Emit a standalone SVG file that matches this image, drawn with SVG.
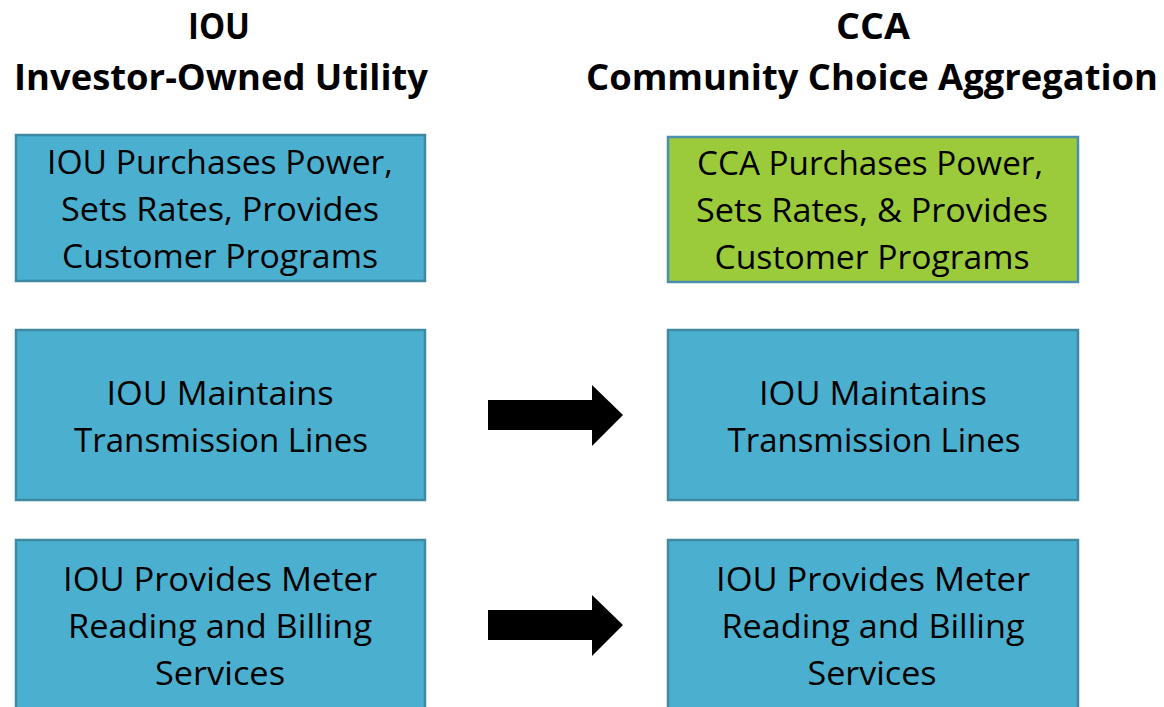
<svg xmlns="http://www.w3.org/2000/svg" width="1164" height="707" viewBox="0 0 1164 707">
<style>
.box{fill:#4BAFCF;stroke:#3F8AA2;stroke-width:2.5}
.green{fill:#9BCB3B;stroke:#4A8FAE;stroke-width:2.5}
.t{font-family:"Open Sans","Noto Sans",sans-serif;font-size:33px;fill:#000;text-anchor:middle}
.h{font-family:"Open Sans","Noto Sans",sans-serif;font-size:36px;font-weight:bold;fill:#000;text-anchor:middle}
.arrow{fill:#000}
</style>
<rect width="1164" height="707" fill="#fff"/>
<g id="heading-iou">
<text class="h" x="219" y="39" textLength="62" lengthAdjust="spacingAndGlyphs">IOU</text>
<text class="h" x="221" y="90" textLength="414" lengthAdjust="spacingAndGlyphs">Investor-Owned Utility</text>
</g>
<g id="heading-cca">
<text class="h" x="873" y="39" textLength="74" lengthAdjust="spacingAndGlyphs">CCA</text>
<text class="h" x="872" y="90" textLength="572" lengthAdjust="spacingAndGlyphs">Community Choice Aggregation</text>
</g>
<g id="iou-purchases">
<rect class="box" x="16" y="135" width="409" height="146"/>
<text class="t" x="220" y="174" textLength="346" lengthAdjust="spacingAndGlyphs">IOU Purchases Power,</text>
<text class="t" x="220" y="221" textLength="318" lengthAdjust="spacingAndGlyphs">Sets Rates, Provides</text>
<text class="t" x="220" y="268" textLength="316" lengthAdjust="spacingAndGlyphs">Customer Programs</text>
</g>
<g id="cca-purchases">
<rect class="green" x="668" y="137" width="410" height="145"/>
<text class="t" x="870" y="175" textLength="346" lengthAdjust="spacingAndGlyphs">CCA Purchases Power,</text>
<text class="t" x="872" y="222" textLength="352" lengthAdjust="spacingAndGlyphs">Sets Rates, &amp; Provides</text>
<text class="t" x="872" y="269" textLength="315" lengthAdjust="spacingAndGlyphs">Customer Programs</text>
</g>
<g id="iou-maintains-left">
<rect class="box" x="16" y="330" width="409" height="170"/>
<text class="t" x="220" y="405" textLength="227" lengthAdjust="spacingAndGlyphs">IOU Maintains</text>
<text class="t" x="221" y="452" textLength="294" lengthAdjust="spacingAndGlyphs">Transmission Lines</text>
</g>
<g id="iou-maintains-right">
<rect class="box" x="668" y="330" width="410" height="170"/>
<text class="t" x="873" y="405" textLength="228" lengthAdjust="spacingAndGlyphs">IOU Maintains</text>
<text class="t" x="874" y="452" textLength="293" lengthAdjust="spacingAndGlyphs">Transmission Lines</text>
</g>
<g id="iou-meter-left">
<rect class="box" x="16" y="540" width="409" height="190"/>
<text class="t" x="220" y="591" textLength="314" lengthAdjust="spacingAndGlyphs">IOU Provides Meter</text>
<text class="t" x="220" y="638" textLength="304" lengthAdjust="spacingAndGlyphs">Reading and Billing</text>
<text class="t" x="220" y="685" textLength="130" lengthAdjust="spacingAndGlyphs">Services</text>
</g>
<g id="iou-meter-right">
<rect class="box" x="668" y="540" width="410" height="190"/>
<text class="t" x="873" y="591" textLength="314" lengthAdjust="spacingAndGlyphs">IOU Provides Meter</text>
<text class="t" x="873" y="638" textLength="303" lengthAdjust="spacingAndGlyphs">Reading and Billing</text>
<text class="t" x="872" y="685" textLength="129" lengthAdjust="spacingAndGlyphs">Services</text>
</g>
<g id="connectors">
<polygon class="arrow" points="488,400 592,400 592,385 623,415 592,446 592,430 488,430"/>
<polygon class="arrow" points="488,610 592,610 592,595 623,625 592,656 592,640 488,640"/>
</g>
</svg>
